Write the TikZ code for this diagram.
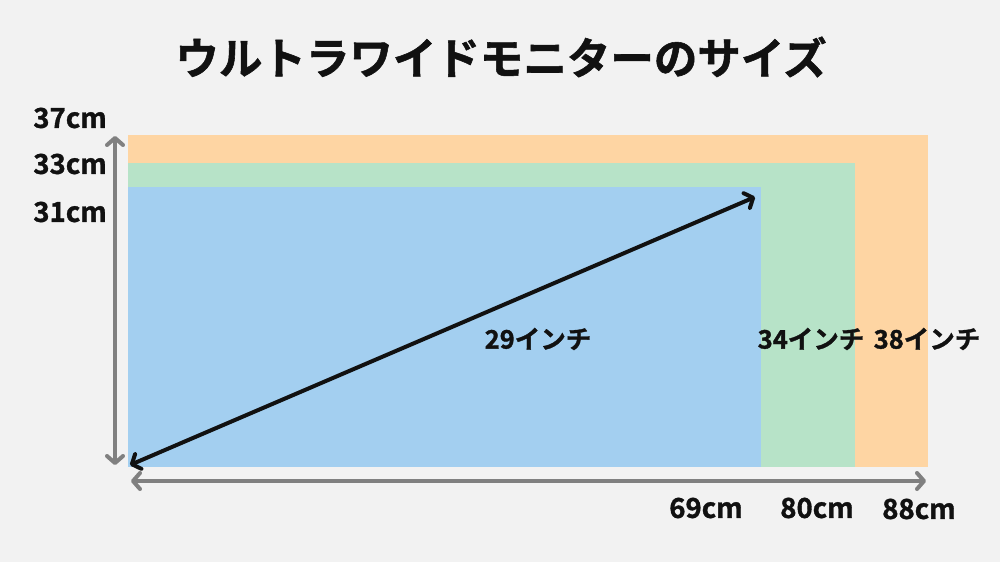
\documentclass[tikz,border=0pt]{standalone}
\usepackage{fontspec}
\newfontfamily\cjk{Noto Sans CJK JP}[BoldFont={Noto Sans CJK JP Bold},BoldFeatures={FakeBold=1.3}]
\usetikzlibrary{arrows.meta}
\definecolor{bg}{RGB}{242,242,242}
\definecolor{orangebox}{RGB}{254,213,163}
\definecolor{greenbox}{RGB}{183,227,200}
\definecolor{bluebox}{RGB}{163,207,240}
\definecolor{axisgray}{RGB}{128,128,128}
\definecolor{ink}{RGB}{17,17,17}
\tikzset{
  lbl/.style={font=\cjk\bfseries\fontsize{27.5}{32}\selectfont, text=ink, inner sep=0pt},
  ilbl/.style={font=\cjk\bfseries\fontsize{25.5}{30}\selectfont, text=ink, inner sep=0pt},
  axis/.style={draw=axisgray, line width=4pt, {Straight Barb[length=7pt,width=16pt,line width=4pt,round]}-{Straight Barb[length=7pt,width=16pt,line width=4pt,round]}},
  diag/.style={draw=ink, line width=4pt, {Straight Barb[length=7pt,width=16pt,line width=4pt,round]}-{Straight Barb[length=7pt,width=16pt,line width=4pt,round]}},
}
\begin{document}
\begin{tikzpicture}[x=1pt,y=-1pt]
\fill[bg] (0,0) rectangle (1000,562);
\useasboundingbox (0,0) rectangle (1000,562);
\node[font=\cjk\bfseries\fontsize{43.5}{50}\selectfont, text=ink, inner sep=0pt] (title) at (501,57) {ウルトラワイドモニターのサイズ};
\fill[orangebox] (128,135) rectangle (928,467);
\fill[greenbox] (128,163) rectangle (855,467);
\fill[bluebox] (128,187) rectangle (761,467);
\coordinate (vtop) at (115,136);
\coordinate (vbot) at (115,465);
\coordinate (hl) at (131,481);
\coordinate (hr) at (926,481);
\coordinate (dl) at (130,465);
\coordinate (dr) at (755,197);
\draw[axis] (vbot) -- (vtop);
\draw[axis] (hl) -- (hr);
\draw[diag] (dl) -- (dr);
\node[lbl, anchor=east] (h37) at (107,118) {37cm};
\node[lbl, anchor=east] (h33) at (107,164) {33cm};
\node[lbl, anchor=east] (h31) at (107,212) {31cm};
\node[lbl] (w69) at (706,508) {69cm};
\node[lbl] (w80) at (817,508) {80cm};
\node[lbl] (w88) at (919,509) {88cm};
\node[ilbl] (i29) at (538,339) {29インチ};
\node[ilbl] (i34) at (811,339) {34インチ};
\node[ilbl] (i38) at (927,339) {38インチ};
\end{tikzpicture}
\end{document}
